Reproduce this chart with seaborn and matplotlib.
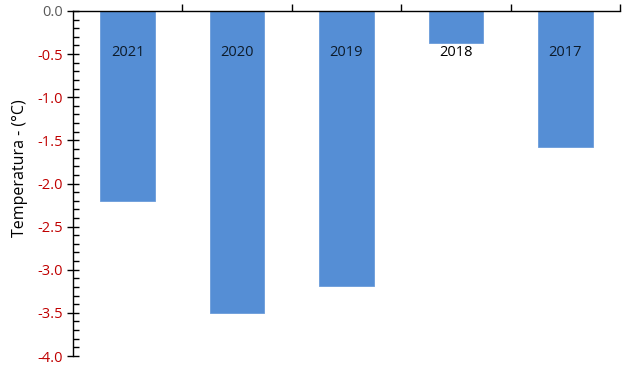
import matplotlib
matplotlib.use("Agg")
import matplotlib.pyplot as plt
import seaborn as sns
import numpy as np
from matplotlib.ticker import MultipleLocator

years = ["2021", "2020", "2019", "2018", "2017"]
values = [-2.20, -3.50, -3.19, -0.37, -1.58]
yticks = [0.0, -0.5, -1.0, -1.5, -2.0, -2.5, -3.0, -3.5, -4.0]

sns.set_style("white")
plt.rcParams['font.family'] = ['Open Sans', 'DejaVu Sans']

fig = plt.figure(figsize=(6.28, 3.66), dpi=100)
ax = fig.add_axes([73/628, 10/366, (620-73)/628, (356-11)/366])

sns.barplot(x=years, y=values, order=years, color="#558ED5", width=0.5,
            saturation=1, ax=ax, edgecolor="#6A9BDA", linewidth=0.6)

ax.set_ylim(-4.0, 0.0)
ax.set_xlim(-0.5, 4.5)

for s in ["bottom", "right"]:
    ax.spines[s].set_visible(False)
for s in ["top", "left"]:
    ax.spines[s].set_visible(True)
    ax.spines[s].set_color("black")
    ax.spines[s].set_linewidth(1.0)

ax.xaxis.tick_top()
ax.set_xticks([0.5, 1.5, 2.5, 3.5, 4.5])
ax.set_xticklabels([])
ax.tick_params(axis='x', direction='out', length=5, width=1, color='black', top=True, bottom=False)
ax.set_xlabel("")

ax.set_yticks(yticks)
ax.set_yticklabels([f"{v:.1f}" for v in yticks], fontsize=10.5)
ax.yaxis.set_minor_locator(MultipleLocator(0.1))
ax.tick_params(axis='y', which='major', direction='inout', length=8, width=1, color='black', left=True, pad=3)
ax.tick_params(axis='y', which='minor', direction='in', length=4, width=1, color='black', left=True)
for lab, v in zip(ax.get_yticklabels(), yticks):
    lab.set_color("#595959" if v == 0 else "#C00000")

ax.set_ylabel("Temperatura - (°C)", fontsize=11.5, color="black")
ax.yaxis.set_label_coords(-0.082, 0.545)

for i, (y, v) in enumerate(zip(years, values)):
    col = "#0D1B2A" if v < -0.6 else "black"
    ax.text(i, -0.48, y, ha="center", va="center", fontsize=10.5, color=col)

fig.savefig("out.png", dpi=100)
